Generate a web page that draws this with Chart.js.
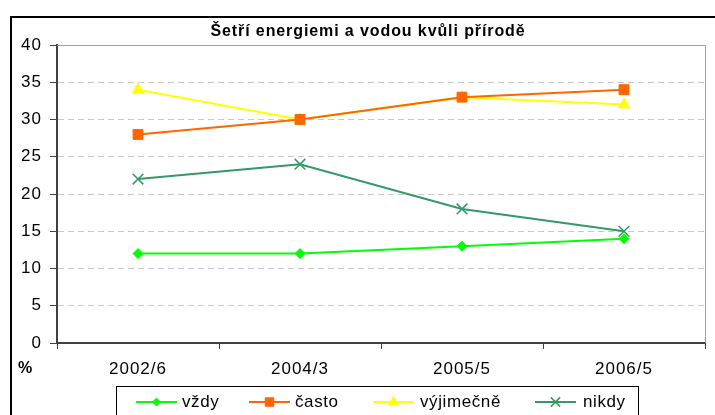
<!DOCTYPE html>
<html>
<head>
<meta charset="utf-8">
<script src="https://cdn.jsdelivr.net/npm/chart.js@4"></script>
<style>
  html, body { margin: 0; padding: 0; background: #fff; }
  #wrap { width: 715px; height: 415px; position: relative; }
</style>
</head>
<body>
<div id="wrap"><canvas id="chart" width="715" height="415"></canvas></div>
<script>
/* Šetří energiemi a vodou kvůli přírodě — line chart */

const title = "Šetří energiemi a vodou kvůli přírodě";
const categories = ["2002/6", "2004/3", "2005/5", "2006/5"];
const seriesNames = ["vždy", "často", "výjimečně", "nikdy"];
const vzdy = [12, 12, 13, 14];
const casto = [28, 30, 33, 34];
const vyjimecne = [34, 30, 33, 32];
const nikdy = [22, 24, 18, 15];
const yTicks = { min: 0, max: 40, step: 5 };

const FONT = "Arial, 'Liberation Sans', sans-serif";

function ds(label, data, color, style, radius) {
  return {
    label, data,
    borderColor: color, backgroundColor: color,
    borderWidth: 2, pointStyle: style, pointRadius: radius,
    pointBorderColor: color, pointBackgroundColor: color,
    pointBorderWidth: style === "crossRot" ? 1.5 : 1,
    tension: 0,
  };
}

const datasets = [
  ds(seriesNames[0], vzdy, "#00ff00", "rectRot", 5),
  ds(seriesNames[1], casto, "#ff6600", "rect", 7),
  ds(seriesNames[2], vyjimecne, "#ffff00", "triangle", 6.5),
  ds(seriesNames[3], nikdy, "#339966", "crossRot", 7.5),
];

/* frame, title, % label, plot border, legend box */
const decor = {
  id: "decor",
  beforeLayout(chart) {
    chart.ctx.letterSpacing = "1px";
  },
  beforeDraw(chart) {
    const c = chart.ctx;
    c.letterSpacing = "1px";
    c.save();
    c.fillStyle = "#fff";
    c.fillRect(0, 0, chart.width, chart.height);
    c.restore();
  },
  afterDatasetsDraw(chart) {
    const c = chart.ctx;
    const a = chart.chartArea;
    c.save();
    // plot area top/right border
    c.strokeStyle = "#a0a0a0";
    c.lineWidth = 1;
    c.beginPath();
    c.moveTo(a.left, a.top + 0.5);
    c.lineTo(a.right + 0.5, a.top + 0.5);
    c.lineTo(a.right + 0.5, a.bottom);
    c.stroke();
    c.restore();
  },
  afterDraw(chart) {
    const c = chart.ctx;
    c.save();
    // outer frame
    c.strokeStyle = "#000";
    c.lineWidth = 2;
    c.strokeRect(11, 17, 720, 420);

    // title
    c.fillStyle = "#000";
    c.font = "bold 16px " + FONT;
    c.letterSpacing = "0.9px";
    c.textAlign = "center";
    c.textBaseline = "middle";
    c.fillText(title, 368, 32);

    // % label
    c.letterSpacing = "0px";
    c.font = "bold 16px " + FONT;
    c.fillText("%", 25, 369);

    // legend
    c.lineWidth = 1;
    c.strokeRect(116.5, 386.5, 522, 40);
    const items = [
      { x: 136, tx: 182 },
      { x: 249, tx: 295 },
      { x: 373, tx: 420 },
      { x: 535, tx: 583 },
    ];
    const ly = 402;
    chart.data.datasets.forEach((d, i) => {
      const it = items[i];
      c.strokeStyle = d.borderColor;
      c.fillStyle = d.backgroundColor;
      c.lineWidth = 2;
      c.beginPath();
      c.moveTo(it.x, ly);
      c.lineTo(it.x + 41, ly);
      c.stroke();
      c.lineWidth = d.pointBorderWidth;
      Chart.helpers.drawPoint(c, {
        pointStyle: d.pointStyle, radius: d.pointRadius - 1, borderWidth: d.pointBorderWidth,
      }, it.x + 20.5, ly);
      c.fillStyle = "#000";
      c.font = "17px " + FONT;
      c.letterSpacing = "0.6px";
      c.textAlign = "left";
      c.textBaseline = "middle";
      c.fillText(d.label, it.tx, ly);
    });
    c.restore();
  },
};

new Chart(document.getElementById("chart"), {
  type: "line",
  data: { labels: categories, datasets },
  options: {
    responsive: false,
    animation: false,
    layout: { padding: { top: 45, right: 10, left: 0, bottom: 0 } },
    plugins: {
      legend: { display: false },
      title: { display: false },
      tooltip: { enabled: false },
    },
    scales: {
      x: {
        offset: true,
        afterFit: (s) => { s.height = 72; },
        grid: {
          offset: true, drawOnChartArea: false, drawTicks: true,
          tickLength: 6, tickColor: "#404040", tickWidth: 1,
        },
        border: { display: true, color: "#404040", width: 2 },
        ticks: { color: "#000", font: { family: FONT, size: 17 }, padding: 10, maxRotation: 0 },
      },
      y: {
        min: yTicks.min, max: yTicks.max,
        afterFit: (s) => { s.width = 57; },
        grid: {
          color: "#c8c8c8", lineWidth: 1,
          drawTicks: true, tickLength: 7, tickColor: "#404040", tickBorderDash: [],
        },
        border: { display: true, color: "#404040", width: 2, dash: [6, 4] },
        ticks: { stepSize: yTicks.step, color: "#000", font: { family: FONT, size: 17 }, padding: 8 },
      },
    },
  },
  plugins: [decor],
});
</script>
</body>
</html>
